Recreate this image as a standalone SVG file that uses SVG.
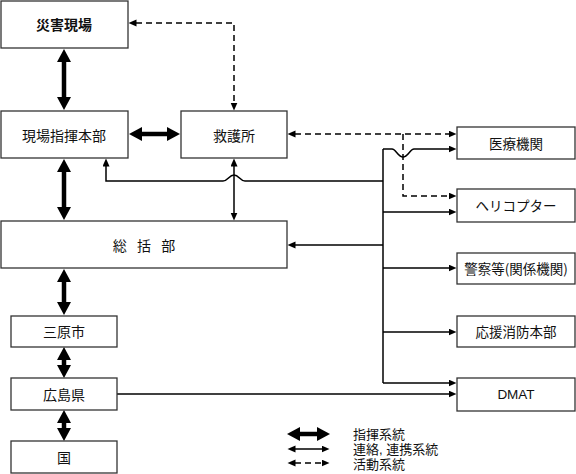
<svg xmlns="http://www.w3.org/2000/svg" width="576" height="474" viewBox="0 0 576 474">
<style>
.box{fill:#fff;stroke:#333;stroke-width:1.3}
.t{font-family:"Noto Sans CJK JP","Liberation Sans",sans-serif;font-size:14px;fill:#111;text-anchor:middle;dominant-baseline:central}
.tr{font-size:13.5px}
.b{font-weight:bold}
.lt{font-family:"Liberation Sans","Noto Sans CJK JP",sans-serif;font-size:13px;fill:#111}
.thick{fill:none;stroke:#000;stroke-width:4.5}
.thin{fill:none;stroke:#000;stroke-width:1.5}
.dash{fill:none;stroke:#000;stroke-width:1.5;stroke-dasharray:6,4}
</style>
<defs>
<marker id="ah" markerUnits="userSpaceOnUse" markerWidth="14" markerHeight="14" refX="1" refY="7" orient="auto-start-reverse"><path d="M0,0 L13,7 L0,14 z" fill="#000"/></marker>
<marker id="as" markerUnits="userSpaceOnUse" markerWidth="10" markerHeight="8" refX="0.5" refY="3.5" orient="auto-start-reverse"><path d="M0,0 L8,3.5 L0,7 z" fill="#000"/></marker>
</defs>
<g id="connectors">
<line class="thick" x1="64" y1="61" x2="64" y2="98" marker-start="url(#ah)" marker-end="url(#ah)"/>
<line class="thick" x1="64" y1="171" x2="64" y2="208" marker-start="url(#ah)" marker-end="url(#ah)"/>
<line class="thick" x1="64" y1="281" x2="64" y2="303" marker-start="url(#ah)" marker-end="url(#ah)"/>
<line class="thick" x1="64" y1="359" x2="64" y2="366" marker-start="url(#ah)" marker-end="url(#ah)"/>
<line class="thick" x1="64" y1="422" x2="64" y2="429" marker-start="url(#ah)" marker-end="url(#ah)"/>
<line class="thick" x1="141" y1="134" x2="168" y2="134" marker-start="url(#ah)" marker-end="url(#ah)"/>
<path class="dash" d="M136,23 H234 V103" marker-start="url(#as)" marker-end="url(#as)"/>
<path class="dash" d="M295,134 H449" marker-start="url(#as)" marker-end="url(#as)"/>
<path class="dash" d="M403,134 V196 H449" marker-end="url(#as)"/>
<line class="thin" x1="234" y1="166" x2="234" y2="213" marker-start="url(#as)" marker-end="url(#as)"/>
<line class="thin" x1="383" y1="149" x2="383" y2="383"/>
<path class="thin" d="M383,149 H392 C396,149 398,157 403,157 C408,157 410,149 414,149 H449" marker-end="url(#as)"/>
<path class="thin" d="M383,181 H245 C240,181 239,175 234,175 C229,175 228,181 223,181 H106 V166" marker-end="url(#as)"/>
<path class="thin" d="M383,212 H449" marker-end="url(#as)"/>
<path class="thin" d="M383,245 H295" marker-end="url(#as)"/>
<path class="thin" d="M383,268 H449" marker-end="url(#as)"/>
<path class="thin" d="M383,332 H449" marker-end="url(#as)"/>
<path class="thin" d="M383,383 H449" marker-end="url(#as)"/>
<path class="thin" d="M117,394 H449" marker-end="url(#as)"/>
</g>
<g id="saigai"><rect class="box" x="1" y="1" width="127" height="47"/><text class="t b" x="64" y="24">災害現場</text></g>
<g id="genba"><rect class="box" x="1" y="111" width="127" height="47"/><text class="t" x="64" y="135">現場指揮本部</text></g>
<g id="kyugo"><rect class="box" x="181" y="111" width="106" height="47"/><text class="t" x="234" y="135">救護所</text></g>
<g id="sokatsu"><rect class="box" x="1" y="221" width="286" height="47"/><text class="t" x="144" y="245" word-spacing="7">総 括 部</text></g>
<g id="mihara"><rect class="box" x="11" y="316" width="106" height="31"/><text class="t" x="64" y="331">三原市</text></g>
<g id="hiroshima"><rect class="box" x="11" y="378" width="106" height="32"/><text class="t" x="64" y="394">広島県</text></g>
<g id="kuni"><rect class="box" x="11" y="441" width="106" height="32"/><text class="t" x="64" y="457">国</text></g>
<g id="iryo"><rect class="box" x="457" y="127" width="118" height="32"/><text class="t tr" x="516" y="143">医療機関</text></g>
<g id="heli"><rect class="box" x="457" y="189" width="118" height="33"/><text class="t tr" x="516" y="205">ヘリコプター</text></g>
<g id="keisatsu"><rect class="box" x="457" y="253" width="118" height="31"/><text class="t tr" x="516" y="268">警察等(関係機関)</text></g>
<g id="oen"><rect class="box" x="457" y="316" width="118" height="31"/><text class="t tr" x="516" y="331">応援消防本部</text></g>
<g id="dmat"><rect class="box" x="457" y="378" width="118" height="33"/><text class="t tr" x="516" y="394" style="font-family:'Liberation Sans',sans-serif">DMAT</text></g>
<g id="legend">
<line class="thick" x1="299" y1="434" x2="318" y2="434" marker-start="url(#ah)" marker-end="url(#ah)"/>
<line class="thin" x1="295" y1="449" x2="322" y2="449" marker-start="url(#as)" marker-end="url(#as)"/>
<line class="dash" x1="295" y1="463" x2="322" y2="463" marker-start="url(#as)" marker-end="url(#as)"/>
<text class="lt" x="353" y="439">指揮系統</text>
<text class="lt" x="353" y="454">連絡, 連携系統</text>
<text class="lt" x="353" y="469">活動系統</text>
</g>
</svg>
